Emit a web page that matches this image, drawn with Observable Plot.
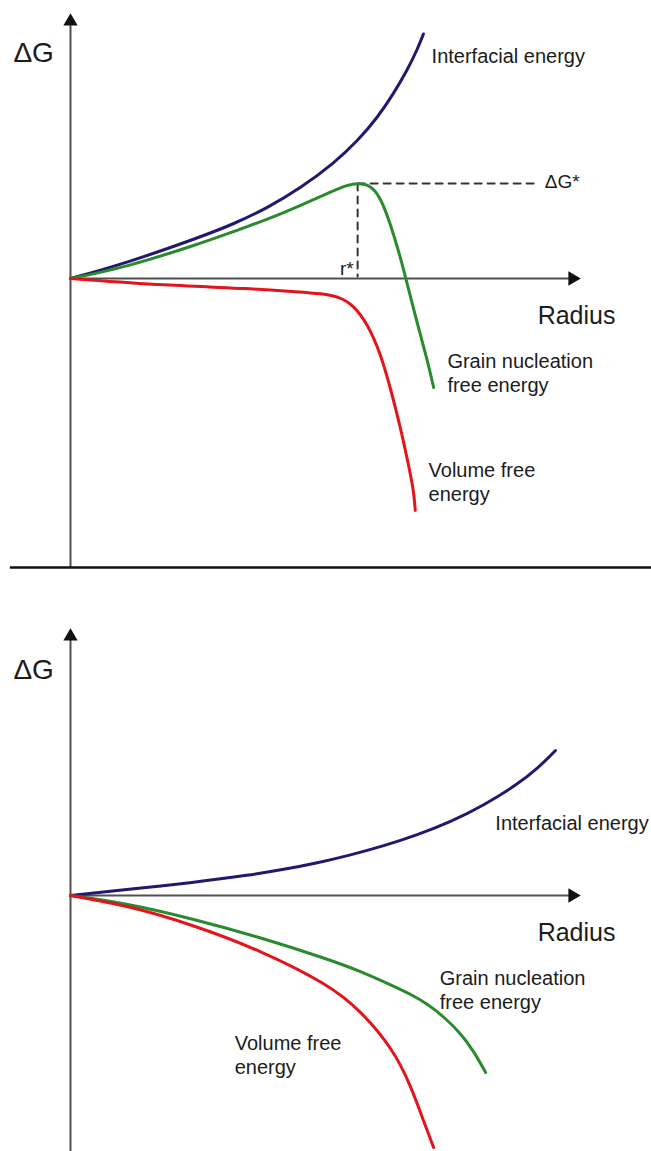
<!DOCTYPE html>
<html>
<head>
<meta charset="utf-8">
<script src="https://cdn.jsdelivr.net/npm/d3@7"></script>
<script src="https://cdn.jsdelivr.net/npm/@observablehq/plot@0.6"></script>
<style>
  body { margin: 0; background: #fff; }
  #chart svg { display: block; }
</style>
</head>
<body>
<div id="chart"></div>
<script>
// ---------- Top panel: homogeneous nucleation (with barrier) ----------
const topInterfacialR = [0, 1.07, 2.55, 3.2, 3.86, 4.51, 5.16, 5.63, 6.02, 6.33, 6.61, 6.8, 6.92];
const topInterfacialG = [0, 0.30, 0.83, 1.09, 1.41, 1.81, 2.30, 2.75, 3.22, 3.69, 4.18, 4.58, 4.89];

const topGrainR = [0, 1.07, 2.55, 3.2, 3.86, 4.51, 5.16, 5.43, 5.63, 5.88, 6.08, 6.27, 6.47, 6.57, 6.8, 7.0, 7.12];
const topGrainG = [0, 0.22, 0.70, 0.94, 1.18, 1.46, 1.76, 1.87, 1.91, 1.87, 1.62, 1.10, 0.42, 0.02, -0.90, -1.64, -2.18];

const topVolumeR = [0, 1.88, 3.51, 4.51, 4.9, 5.29, 5.55, 5.82, 6.08, 6.27, 6.47, 6.61, 6.73, 6.76];
const topVolumeG = [0, -0.14, -0.20, -0.27, -0.30, -0.37, -0.54, -0.90, -1.50, -2.18, -2.98, -3.64, -4.24, -4.64];

const criticalRadius = 5.63;   // r*
const criticalEnergy = 1.90;   // ΔG*
const dashEndR = 9.12;

// ---------- Bottom panel: no barrier ----------
const botInterfacialR = [0, 1.12, 2.41, 3.53, 4.18, 4.84, 5.49, 6.14, 6.8, 7.45, 8.1, 8.76, 9.16, 9.51];
const botInterfacialG = [0, 0.12, 0.26, 0.41, 0.52, 0.65, 0.81, 0.99, 1.21, 1.47, 1.80, 2.22, 2.54, 2.90];

const botGrainR = [0, 1.12, 2.41, 3.73, 5.04, 5.7, 6.33, 6.7, 7.0, 7.35, 7.65, 7.9, 8.14];
const botGrainG = [0, -0.16, -0.47, -0.84, -1.27, -1.52, -1.81, -1.99, -2.17, -2.45, -2.76, -3.10, -3.54];

const botVolumeR = [0, 1.12, 2.41, 3.73, 5.04, 5.69, 6.33, 6.67, 6.92, 7.12];
const botVolumeG = [0, -0.20, -0.59, -1.10, -1.77, -2.30, -3.08, -3.80, -4.50, -5.04];

// ---------- Labels ----------
const topCurveLabels = [
  {r: 7.08, g: 4.46, text: "Interfacial energy"},
  {r: 7.39, g: -1.88, text: "Grain nucleation\nfree energy"},
  {r: 7.02, g: -4.05, text: "Volume free\nenergy"}
];
const botCurveLabels = [
  {r: 8.33, g: 1.46, text: "Interfacial energy"},
  {r: 7.24, g: -1.87, text: "Grain nucleation\nfree energy"},
  {r: 3.22, g: -3.17, text: "Volume free\nenergy"}
];
const axisTitleY = "ΔG";
const axisTitleX = "Radius";

const colors = {interfacial: "#1f1a6e", grain: "#2a8a2e", volume: "#e3141c"};
const rows = (rs, gs) => rs.map((r, i) => ({r, g: gs[i]}));
const FONT = "'Liberation Sans', Arial, Helvetica, sans-serif";
const INK = "#1c1c1c";
const AXIS = "#505050";

function panel({height, originY, yTop, yBottom, curves, labels, extra = []}) {
  return Plot.plot({
    width: 651,
    height,
    x: {domain: [0, 10], range: [70, 580], axis: null},
    y: {domain: [0, 5], range: [originY, originY - 250], axis: null},
    style: {fontFamily: FONT, background: "#fff", overflow: "visible"},
    marks: [
      Plot.ruleX([0], {y1: yBottom, y2: yTop - 0.1, stroke: AXIS, strokeWidth: 2}),
      Plot.ruleY([0], {x1: 0, x2: 9.8, stroke: AXIS, strokeWidth: 2}),
      Plot.dot([{r: 10, g: 0}], {x: "r", y: "g", symbol: "triangle", r: 5.3, rotate: 90, dx: -8, fill: "#111", stroke: "none"}),
      Plot.dot([{r: 0, g: yTop}], {x: "r", y: "g", symbol: "triangle", r: 5.3, dy: 8, fill: "#111", stroke: "none"}),
      ...extra,
      ...curves.map(c => Plot.line(c.data, {x: "r", y: "g", stroke: c.color, strokeWidth: 3, curve: "basis", strokeLinecap: "round"})),
      Plot.text(labels, {x: "r", y: "g", text: "text", textAnchor: "start", lineAnchor: "middle", lineHeight: 1.2, fontSize: 20, fill: INK}),
      Plot.text([{r: -1.12, g: 4.5}], {x: "r", y: "g", text: () => axisTitleY, textAnchor: "start", lineAnchor: "middle", fontSize: 28, fill: INK}),
      Plot.text([{r: 9.16, g: -0.74}], {x: "r", y: "g", text: () => axisTitleX, textAnchor: "start", lineAnchor: "middle", fontSize: 25, fill: INK})
    ]
  });
}

const peak = [{r: criticalRadius, g: criticalEnergy}];
const topExtra = [
  Plot.ruleY([-5.78], {x1: -1.18, x2: 11.4, stroke: "#111", strokeWidth: 2.5}),
  Plot.line([{r: criticalRadius, g: criticalEnergy}, {r: dashEndR, g: criticalEnergy}], {x: "r", y: "g", stroke: "#333", strokeWidth: 2, strokeDasharray: "7,6"}),
  Plot.line([{r: criticalRadius, g: criticalEnergy}, {r: criticalRadius, g: 0.04}], {x: "r", y: "g", stroke: "#333", strokeWidth: 2, strokeDasharray: "7,6"}),
  Plot.text(peak, {x: dashEndR + 0.18, y: "g", text: () => "ΔG*", textAnchor: "start", lineAnchor: "middle", fontSize: 19, fill: INK, dy: -2}),
  Plot.text(peak, {x: "r", y: 0.2, text: () => "r*", textAnchor: "end", lineAnchor: "middle", fontSize: 19, fill: INK, dx: -4})
];

const topPanel = panel({
  height: 568, originY: 278, yTop: 5.3, yBottom: -5.78,
  curves: [
    {data: rows(topInterfacialR, topInterfacialG), color: colors.interfacial},
    {data: rows(topGrainR, topGrainG), color: colors.grain},
    {data: rows(topVolumeR, topVolumeG), color: colors.volume}
  ],
  labels: topCurveLabels,
  extra: topExtra
});

const bottomPanel = panel({
  height: 583, originY: 327, yTop: 5.34, yBottom: -5.2,
  curves: [
    {data: rows(botInterfacialR, botInterfacialG), color: colors.interfacial},
    {data: rows(botGrainR, botGrainG), color: colors.grain},
    {data: rows(botVolumeR, botVolumeG), color: colors.volume}
  ],
  labels: botCurveLabels
});

document.getElementById("chart").append(topPanel, bottomPanel);
</script>
</body>
</html>
